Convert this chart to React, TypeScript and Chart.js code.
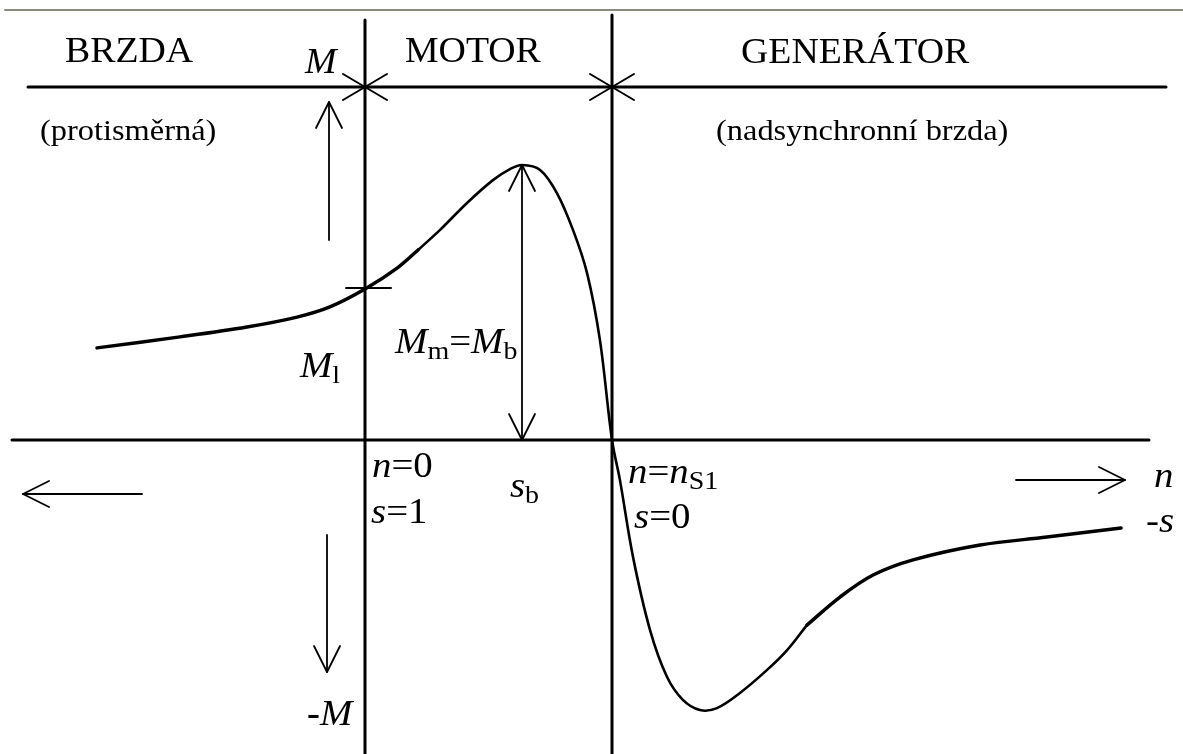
import { useEffect, useRef } from "react";
import { Chart, registerables } from "chart.js";

Chart.register(...registerables);

// Speed n (in units of n_S1) and torque M (in units of M_b = M_max)
const X_MIN = -1.4777;
const X_MAX = 3.3117;
const Y_MIN = -1.1418;
const Y_MAX = 1.6;

// Torque-speed characteristic: brake part (counter-current brake)
const brakeN = [-1.085, -0.749, -0.478, -0.275, -0.142, 0, 0.13, 0.215];
const brakeM = [0.335, 0.375, 0.411, 0.447, 0.484, 0.549, 0.625, 0.691];
// motor + beginning of generator region
const motorN = [0.215, 0.304, 0.413, 0.518, 0.587, 0.636, 0.709, 0.777, 0.842, 0.899, 0.951, 1.0, 1.032, 1.085, 1.154, 1.223, 1.287, 1.356, 1.425, 1.518, 1.628, 1.709, 1.789];
const motorM = [0.691, 0.764, 0.862, 0.945, 0.985, 1.0, 0.982, 0.898, 0.764, 0.607, 0.364, 0, -0.145, -0.425, -0.691, -0.862, -0.945, -0.982, -0.975, -0.92, -0.836, -0.764, -0.673];
// generator tail
const genN = [1.789, 1.923, 2.057, 2.219, 2.49, 2.761, 3.061];
const genM = [-0.673, -0.571, -0.491, -0.436, -0.382, -0.353, -0.32];

// Frame lines [n1, M1, n2, M2]
const slideLine = [-1.4575, 1.5636, 3.3117, 1.5636];
const topLine = [-1.3644, 1.2836, 3.2429, 1.2836];
const speedAxis = [-1.4291, 0, 3.1741, 0];
const zeroSpeedLine = [0, 1.5273, 0, -1.1418];
const syncSpeedLine = [1, 1.5455, 1, -1.1418];
const startTorqueTick = [-0.0769, 0.5527, 0.1053, 0.5527];

// Arrows [nTail, MTail, nTip, MTip, double-headed]
const arrows: [number, number, number, number, boolean][] = [
  [-0.1457, 0.7273, -0.1457, 1.2291, false],
  [-0.1538, -0.3455, -0.1538, -0.8436, false],
  [-0.9028, -0.1964, -1.3846, -0.1964, false],
  [2.6356, -0.1455, 3.0769, -0.1455, false],
  [0.6356, 0, 0.6356, 1.0, true],
];

// Region boundary marks on the top line [n, M]
const stars: [number, number][] = [
  [0, 1.2836],
  [1, 1.2836],
];

type Run = [string, string];
type Label = { n: number; m: number; size: number; runs: Run[] };

const labels: Label[] = [
  { n: -1.2146, m: 1.3745, size: 35, runs: [["BRZDA", "r"]] },
  { n: 0.1619, m: 1.3745, size: 35, runs: [["MOTOR", "r"]] },
  { n: 1.5223, m: 1.3709, size: 35, runs: [["GENERÁTOR", "r"]] },
  { n: -0.2429, m: 1.3345, size: 35, runs: [["M", "i"]] },
  { n: -1.3158, m: 1.0909, size: 30, runs: [["(protisměrná)", "r"]] },
  { n: 1.4211, m: 1.0909, size: 30, runs: [["(nadsynchronní brzda)", "r"]] },
  { n: -0.2632, m: 0.2291, size: 36, runs: [["M", "i"], ["l", "s"]] },
  { n: 0.1215, m: 0.3164, size: 36, runs: [["M", "i"], ["m", "s"], ["=", "r"], ["M", "i"], ["b", "s"]] },
  { n: 0.0283, m: -0.1345, size: 36, runs: [["n", "i"], ["=", "r"], ["0", "r"]] },
  { n: 0.0243, m: -0.3018, size: 36, runs: [["s", "i"], ["=", "r"], ["1", "r"]] },
  { n: 0.587, m: -0.2073, size: 36, runs: [["s", "i"], ["b", "s"]] },
  { n: 1.0648, m: -0.1564, size: 36, runs: [["n", "i"], ["=", "r"], ["n", "i"], ["S1", "s"]] },
  { n: 1.0891, m: -0.32, size: 36, runs: [["s", "i"], ["=", "r"], ["0", "r"]] },
  { n: 3.1943, m: -0.1709, size: 36, runs: [["n", "i"]] },
  { n: 3.1619, m: -0.3345, size: 36, runs: [["-", "r"], ["s", "i"]] },
  { n: -0.2348, m: -1.0364, size: 36, runs: [["-", "b"], ["M", "i"]] },
];

const TEXT_SX = 1.08;
const FONT = '"Liberation Serif", "Times New Roman", serif';

function pts(ns: number[], ms: number[]) {
  return ns.map((n, i) => ({ x: n, y: ms[i] }));
}
function seg(s: number[]) {
  return [
    { x: s[0], y: s[1] },
    { x: s[2], y: s[3] },
  ];
}

function lineDs(data: { x: number; y: number }[], width: number, color = "#000", curve = false) {
  return {
    data,
    showLine: true,
    borderColor: color,
    backgroundColor: color,
    borderWidth: width,
    pointRadius: 0,
    pointHoverRadius: 0,
    tension: curve ? 0.35 : 0,
    borderCapStyle: "round" as const,
    borderJoinStyle: "round" as const,
  };
}

const diagramPlugin = {
  id: "diagram",
  afterDatasetsDraw(chart: any) {
    const { ctx, scales } = chart;
    const px = (n: number) => scales.x.getPixelForValue(n);
    const py = (m: number) => scales.y.getPixelForValue(m);
    ctx.save();
    ctx.strokeStyle = "#000";
    ctx.fillStyle = "#000";
    ctx.lineCap = "round";
    ctx.lineJoin = "round";

    // arrows
    const head = (tx: number, ty: number, ux: number, uy: number) => {
      const L = 26;
      const W = 13;
      ctx.beginPath();
      ctx.moveTo(tx - ux * L - uy * W, ty - uy * L + ux * W);
      ctx.lineTo(tx, ty);
      ctx.lineTo(tx - ux * L + uy * W, ty - uy * L - ux * W);
      ctx.stroke();
    };
    ctx.lineWidth = 1.8;
    for (const [n1, m1, n2, m2, both] of arrows) {
      const x1 = px(n1), y1 = py(m1), x2 = px(n2), y2 = py(m2);
      ctx.beginPath();
      ctx.moveTo(x1, y1);
      ctx.lineTo(x2, y2);
      ctx.stroke();
      const len = Math.hypot(x2 - x1, y2 - y1);
      const ux = (x2 - x1) / len, uy = (y2 - y1) / len;
      head(x2, y2, ux, uy);
      if (both) head(x1, y1, -ux, -uy);
    }

    // boundary stars
    ctx.lineWidth = 2;
    for (const [n, m] of stars) {
      const cx = px(n), cy = py(m);
      ctx.beginPath();
      ctx.moveTo(cx - 22, cy - 13);
      ctx.lineTo(cx + 22, cy + 13);
      ctx.moveTo(cx - 22, cy + 13);
      ctx.lineTo(cx + 22, cy - 13);
      ctx.stroke();
    }

    // labels
    ctx.textBaseline = "alphabetic";
    ctx.textAlign = "left";
    for (const lb of labels) {
      ctx.save();
      ctx.translate(px(lb.n), py(lb.m));
      ctx.scale(TEXT_SX, 1);
      let cx = 0;
      for (const [t, s] of lb.runs) {
        let fs = lb.size;
        let dy = 0;
        let style = "";
        if (s === "i") style = "italic ";
        if (s === "b") style = "bold ";
        if (s === "s") {
          fs = lb.size * 0.72;
          dy = lb.size * 0.18;
        }
        ctx.font = `${style}${fs}px ${FONT}`;
        ctx.fillText(t, cx, dy);
        cx += ctx.measureText(t).width;
      }
      ctx.restore();
    }
    ctx.restore();
  },
};

export default function App() {
  const ref = useRef<HTMLCanvasElement | null>(null);

  useEffect(() => {
    if (!ref.current) return;
    const chart = new Chart(ref.current, {
      type: "scatter",
      data: {
        datasets: [
          lineDs(seg(slideLine), 2, "#8a8a7e"),
          lineDs(seg(topLine), 3),
          lineDs(seg(speedAxis), 3),
          lineDs(seg(zeroSpeedLine), 3),
          lineDs(seg(syncSpeedLine), 3),
          lineDs(seg(startTorqueTick), 2),
          lineDs(pts(brakeN, brakeM), 3.5, "#000", true),
          lineDs(pts(motorN, motorM), 2.6, "#000", true),
          lineDs(pts(genN, genM), 3.5, "#000", true),
        ] as any,
      },
      options: {
        animation: false,
        responsive: false,
        devicePixelRatio: 1,
        layout: { padding: 0 },
        plugins: {
          legend: { display: false },
          tooltip: { enabled: false },
        },
        events: [],
        scales: {
          x: { type: "linear", min: X_MIN, max: X_MAX, display: false },
          y: { type: "linear", min: Y_MIN, max: Y_MAX, display: false },
        },
      },
      plugins: [diagramPlugin],
    });
    return () => chart.destroy();
  }, []);

  return (
    <div style={{ position: "fixed", left: 0, top: 0, width: 1183, height: 754, background: "#fff" }}>
      <canvas ref={ref} width={1183} height={754} style={{ display: "block" }} />
    </div>
  );
}
